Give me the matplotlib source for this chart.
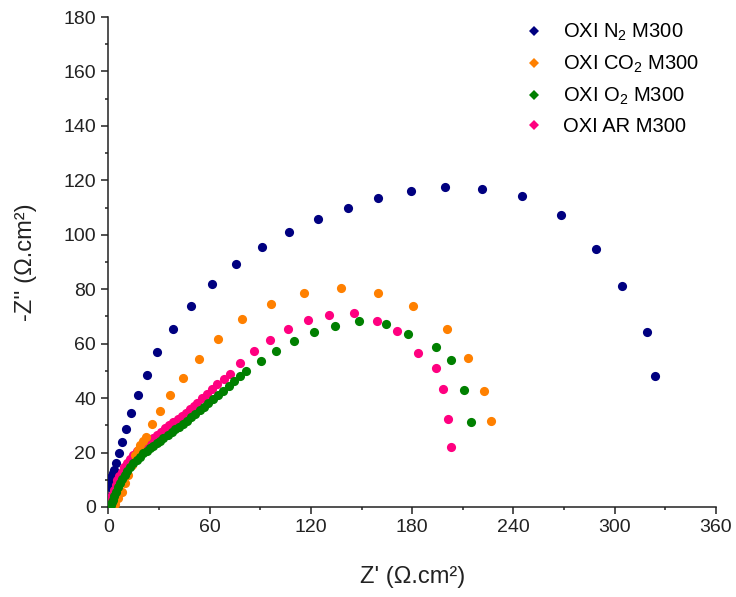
import matplotlib
matplotlib.use("Agg")
import matplotlib.pyplot as plt
from matplotlib.ticker import MultipleLocator
from matplotlib.lines import Line2D

plt.rcParams["font.family"] = ["Liberation Sans", "DejaVu Sans"]
plt.rcParams["mathtext.fontset"] = "custom"
plt.rcParams["mathtext.rm"] = "Liberation Sans"
plt.rcParams["mathtext.it"] = "Liberation Sans:italic"

# Nyquist data (Z' , -Z'' in ohm.cm2)
n2_x = [0.3, 0.7, 1.3, 1.7, 2.5, 3.3, 4.4, 6.2, 8.2, 10.2, 13.1, 17.4, 22.6, 28.9,
        38.2, 48.9, 61.2, 75.6, 90.8, 107.0, 124.0, 142.0, 160.0, 179.3, 199.6,
        221.6, 245.2, 268.0, 288.7, 304.3, 319.0, 323.9]
n2_y = [3.8, 7.5, 9.5, 11.1, 12.5, 13.6, 16.3, 20.0, 24.0, 28.7, 34.4, 41.0, 48.4, 56.8,
        65.3, 73.8, 81.9, 89.2, 95.6, 101.1, 105.7, 109.8, 113.4, 116.0, 117.6,
        116.7, 114.2, 107.4, 94.9, 81.2, 64.3, 48.1]

co2_x = [2.0, 3.9, 5.8, 7.8, 9.8, 11.7, 13.7, 15.7, 17.2, 18.7, 20.5, 22.3, 25.9,
         30.7, 36.5, 44.0, 53.8, 65.1, 79.4, 96.5, 116.0, 137.6, 160.0, 180.6,
         200.4, 213.0, 222.5, 226.5]
co2_y = [0.4, 1.1, 3.2, 5.6, 8.7, 11.8, 15.4, 19.1, 21.0, 22.7, 24.3, 25.8, 30.3,
         35.4, 41.1, 47.5, 54.5, 61.7, 69.0, 74.6, 78.5, 80.6, 78.7, 73.8,
         65.5, 54.7, 42.7, 31.6]

o2_x = [0.5, 1.2, 1.8, 2.5, 3.4, 4.4, 5.6, 6.8, 8.2, 9.8, 11.2, 12.7, 14.7, 16.7,
        18.6, 20.6, 22.6, 24.6, 26.5, 28.5, 30.5, 32.5, 35.0, 37.4, 39.7, 42.0,
        44.2, 46.3, 48.8, 51.4, 54.0, 56.6, 59.1, 61.7, 64.8, 68.0, 71.2, 74.4,
        77.9, 81.5, 90.2, 99.4, 109.7, 121.8, 134.4, 148.3, 164.3, 177.5, 194.3,
        203.1, 210.5, 215.0]
o2_y = [0.3, 0.9, 1.7, 2.6, 4.1, 5.6, 7.2, 8.7, 10.3, 11.8, 13.2, 14.6, 16.0, 17.3,
        18.5, 19.7, 20.7, 21.6, 22.5, 23.4, 24.3, 25.2, 26.3, 27.4, 28.5, 29.5,
        30.6, 31.7, 33.0, 34.2, 35.6, 36.9, 38.3, 39.6, 41.1, 42.6, 44.4, 46.2,
        48.2, 50.1, 53.7, 57.3, 61.1, 64.2, 66.5, 68.2, 67.2, 63.7, 58.9,
        54.0, 43.0, 31.3]

ar_x = [0.6, 1.4, 2.3, 3.3, 4.2, 5.2, 6.5, 7.8, 9.3, 10.8, 12.7, 14.7, 16.7, 18.7,
        21.1, 23.6, 26.1, 28.6, 31.0, 33.5, 35.9, 38.4, 40.9, 43.4, 45.8, 48.3,
        50.5, 52.6, 55.4, 58.2, 61.3, 64.5, 68.2, 72.0, 78.1, 86.2, 95.9, 106.2,
        118.0, 130.7, 145.3, 159.2, 171.1, 183.6, 194.1, 198.2, 201.0, 203.1]
ar_y = [1.2, 2.6, 4.4, 6.2, 8.0, 9.9, 11.5, 13.0, 14.6, 16.1, 17.6, 19.1, 20.4, 21.6,
        22.8, 24.0, 25.2, 26.4, 27.6, 28.9, 30.1, 31.3, 32.4, 33.4, 34.6, 35.9,
        37.1, 38.3, 39.9, 41.5, 43.3, 45.2, 47.0, 48.9, 53.0, 57.3, 61.4, 65.5,
        68.7, 70.6, 71.3, 68.3, 64.7, 56.5, 51.1, 43.5, 32.3, 22.0]

labels = ["OXI N$_2$ M300", "OXI CO$_2$ M300", "OXI O$_2$ M300", "OXI AR M300"]
colors = ["#000080", "#FF8000", "#008000", "#FF0080"]

fig = plt.figure(figsize=(7.36, 5.97), dpi=100)
ax = fig.add_axes([0.1474, 0.1508, 0.8254, 0.8207])

ms = 6.6
ax.plot(n2_x, n2_y, "o", color=colors[0], ms=ms, mew=0, zorder=3)
ax.plot(ar_x, ar_y, "o", color=colors[3], ms=ms, mew=0, zorder=4)
ax.plot(co2_x, co2_y, "o", color=colors[1], ms=ms, mew=0, zorder=5)
ax.plot(o2_x, o2_y, "o", color=colors[2], ms=ms, mew=0, zorder=6)

ax.set_xlim(0, 360)
ax.set_ylim(0, 180)
ax.xaxis.set_major_locator(MultipleLocator(60))
ax.xaxis.set_minor_locator(MultipleLocator(30))
ax.yaxis.set_major_locator(MultipleLocator(20))
ax.yaxis.set_minor_locator(MultipleLocator(10))

for side in ["top", "right"]:
    ax.spines[side].set_visible(False)
for side in ["left", "bottom"]:
    ax.spines[side].set_linewidth(1.1)
    ax.spines[side].set_color("#222222")

ax.tick_params(which="major", length=5, width=1.1, labelsize=14,
               colors="#222222", pad=4)
ax.tick_params(which="minor", length=2.5, width=1.1, colors="#222222")

ax.set_xlabel("Z' (Ω.cm²)", fontsize=17, color="#222222", labelpad=21)
ax.set_ylabel("-Z'' (Ω.cm²)", fontsize=17, color="#222222", labelpad=19)

handles = [Line2D([], [], ls="none", marker="D", ms=5.5, mew=0, color=c)
           for c in colors]
fig.legend(handles, labels, loc="upper left", bbox_to_anchor=(0.712, 0.963),
           frameon=False, fontsize=14.5, handlelength=1.0, handletextpad=0.95,
           labelspacing=0.52, borderaxespad=0, borderpad=0)

fig.savefig("out.png", dpi=100)
